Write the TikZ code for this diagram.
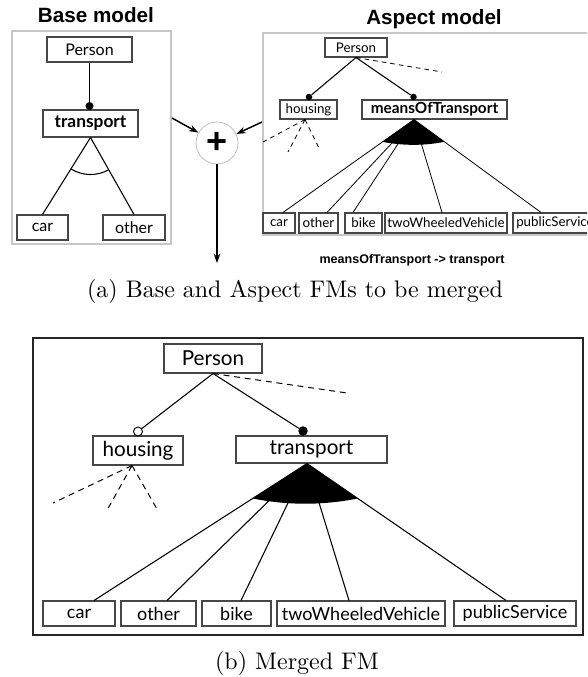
\documentclass[tikz,border=0pt]{standalone}
\usepackage{fontspec}
\setmainfont{Lato}
\newfontfamily\helv{Liberation Sans}
\newfontfamily\capfont{lmroman10-regular.otf}
\usetikzlibrary{calc,arrows.meta}
\begin{document}
\begin{tikzpicture}[x=0.75pt,y=-0.75pt,
  fb/.style 2 args={draw=black!72, line width=0.8pt, inner sep=0pt, fill=white,
     minimum width=#1*0.75pt, minimum height=#2*0.75pt},
  tl/.style={line width=0.8pt},
  dashln/.style={line width=0.75pt, dash pattern=on 4.5pt off 3.5pt},
  mand/.style={circle, fill=black, inner sep=0pt, minimum size=#1*0.75pt},
  opt/.style={circle, draw=black, fill=white, line width=0.7pt, inner sep=0pt, minimum size=#1*0.75pt},
  arr/.style={-{Stealth[length=7pt,width=5pt]}, line width=1.1pt},
  frame/.style={draw=black!22, line width=0.8pt},
  title/.style={anchor=base, font=\helv\bfseries\fontsize{15.5}{17}\selectfont},
  capt/.style={anchor=base, font=\capfont\fontsize{18}{20}\selectfont},
  fbase/.style={font=\fontsize{12}{14}\selectfont},
  fasp/.style={font=\fontsize{10}{12}\selectfont},
  fmid/.style={font=\fontsize{15.5}{17}\selectfont},
  fleaf/.style={font=\fontsize{13.5}{15}\selectfont}]
\useasboundingbox (0,0) rectangle (587,677);
\clip (0,0) rectangle (587,677);

% ---------- (a) Base model ----------
\node[title] (tB) at (96,23) {Base model};
\draw[frame] (12,31) rectangle (171,244);
\node[fb={85}{25}, fbase] (bP) at (89.5,49.5) {Person};
\node[fb={95}{27}, font=\bfseries\fontsize{13}{15}\selectfont] (bT) at (90.5,123.5) {transport};
\node[fb={51}{25}, fbase] (bCar) at (42.5,227.5) {car};
\node[fb={62}{25}, fbase] (bOther) at (134,227.5) {other};
\node[mand=8] (bDot) at (89.5,106) {};
\draw[tl] (bP.south) -- (bDot);
\draw[tl] (bT.south) -- (bCar.north);
\draw[tl] (bT.south) -- (bOther.north);
\draw[tl] ([shift={(61:37)}]bT.south) arc[start angle=61, end angle=121.5, radius=37];

% ---------- merge operator ----------
\node[circle, draw=black!25, line width=0.6pt, minimum size=42*0.75pt, inner sep=0pt,
      font=\helv\bfseries\fontsize{27}{27}\selectfont] (plus) at (217,143) {+};
\coordinate (inL) at (172,118);
\coordinate (inR) at (262,122);
\coordinate (outD) at (217,263);
\draw[arr] (inL) -- (plus);
\draw[arr] (inR) -- (plus);
\draw[arr] (plus) -- (outD);

% ---------- (a) Aspect model ----------
\node[title] (tA) at (434,25) {Aspect model};
\draw[frame] (263,33) rectangle (600,235);
\node[fb={62}{19}, fasp] (aP) at (356,47.5) {Person};
\node[fb={57}{19}, fasp] (aH) at (308.5,109.5) {housing};
\node[fb={145}{19}, font=\bfseries\fontsize{11.5}{13}\selectfont] (aM) at (434.5,109.5) {meansOfTransport};
\node[mand=6.5] (aHd) at (309,97) {};
\node[mand=6.5] (aMd) at (413.5,97) {};
\draw[tl] (aP.south) -- (aHd);
\draw[tl] (aP.south) -- (aMd);
\coordinate (aPx) at (442,72);
\draw[dashln, line width=0.6pt, dash pattern=on 3.5pt off 3pt] (aP.south) -- (aPx);
\coordinate (aHa) at ($(aH.south)+(-3.5,0)$);
\coordinate (aH1) at (263,142);
\coordinate (aH2) at (288,152);
\coordinate (aH3) at (320,150);
\foreach \t in {aH1,aH2,aH3} \draw[dashln, line width=0.6pt, dash pattern=on 3.5pt off 3pt] (aHa) -- (\t);

\node[fb={32}{20}, fasp] (aCar) at (279,223) {car};
\node[fb={39}{20}, fasp] (aOther) at (318.5,223) {other};
\node[fb={37}{20}, fasp] (aBike) at (363.5,223) {bike};
\node[fb={122}{20}, fasp] (aTwo) at (446,223) {twoWheeledVehicle};
\node[fb={84}{20}, fasp] (aPub) at (555,223) {publicService};
\coordinate (aApex) at ($(aM.south)+(-20.5,0)$);
\coordinate (aCarT) at ($(aCar.north)+(4,0)$);
\coordinate (aOtherT) at ($(aOther.north)+(8.5,0)$);
\coordinate (aBikeT) at ($(aBike.north)+(-10.5,0)$);
\coordinate (aTwoT) at ($(aTwo.north)+(-4,0)$);
\coordinate (aPubT) at ($(aPub.north)+(-14,0)$);
\foreach \t in {aCarT,aOtherT,aBikeT,aTwoT,aPubT} \draw[line width=0.6pt] (aApex) -- (\t);
\coordinate (aL) at ($(aApex)!0.24!(aCarT)$);
\coordinate (aR) at ($(aApex)!0.24!(aPubT)$);
\fill (aApex) -- (aL) .. controls ($(aL)!0.33!(aR)+(0,4)$) and ($(aL)!0.67!(aR)+(0,4)$) .. (aR) -- cycle;

\node[anchor=base, font=\helv\bfseries\fontsize{9.4}{11}\selectfont] (ren) at (412,263) {meansOfTransport -> transport};
\node[capt] (capA) at (295,297) {(a) Base and Aspect FMs to be merged};

% ---------- (b) Merged FM ----------
\draw[draw=black!85, line width=0.9pt] (33,338) rectangle (583,635);
\node[fb={98}{29}, fmid] (mP) at (213,358.5) {Person};
\node[fb={90}{29}, fmid] (mH) at (138,450.5) {housing};
\node[fb={151}{27}, fmid] (mT) at (311.5,449.5) {transport};
\node[opt=9] (mHd) at (138,431.5) {};
\node[mand=9.5] (mTd) at (303,431) {};
\draw[tl] (mP.south) -- (mHd);
\draw[tl] (mP.south) -- (mTd);
\coordinate (mPx) at (347,393);
\draw[dashln] (mP.south) -- (mPx);
\coordinate (mHa) at ($(mH.south)+(-6,0)$);
\coordinate (mH1) at (53,503);
\coordinate (mH2) at (106,512);
\coordinate (mH3) at (157,509);
\foreach \t in {mH1,mH2,mH3} \draw[dashln] (mHa) -- (\t);

\node[fb={72}{25}, fleaf] (mCar) at (79,613.5) {car};
\node[fb={75}{25}, fleaf] (mOther) at (158.5,613.5) {other};
\node[fb={69}{25}, fleaf] (mBike) at (236.5,613.5) {bike};
\node[fb={168}{25}, fleaf] (mTwo) at (361,613.5) {twoWheeledVehicle};
\node[fb={122}{25}, fleaf] (mPub) at (515,613.5) {publicService};
\coordinate (mApex) at ($(mT.south)+(-4.5,0)$);
\coordinate (mCarT) at ($(mCar.north)+(15,0)$);
\coordinate (mOtherT) at ($(mOther.north)+(8.5,0)$);
\coordinate (mBikeT) at ($(mBike.north)+(4.5,0)$);
\coordinate (mTwoT) at ($(mTwo.north)+(-12,0)$);
\coordinate (mPubT) at ($(mPub.north)+(-9,0)$);
\foreach \t in {mCarT,mOtherT,mBikeT,mTwoT,mPubT} \draw[tl] (mApex) -- (\t);
\coordinate (mL) at ($(mApex)!0.255!(mCarT)$);
\coordinate (mR) at ($(mApex)!0.255!(mPubT)$);
\fill (mApex) -- (mL) .. controls ($(mL)!0.33!(mR)+(0,7)$) and ($(mL)!0.67!(mR)+(0,7)$) .. (mR) -- cycle;

\node[capt] (capB) at (297,669) {(b) Merged FM};
\end{tikzpicture}
\end{document}
